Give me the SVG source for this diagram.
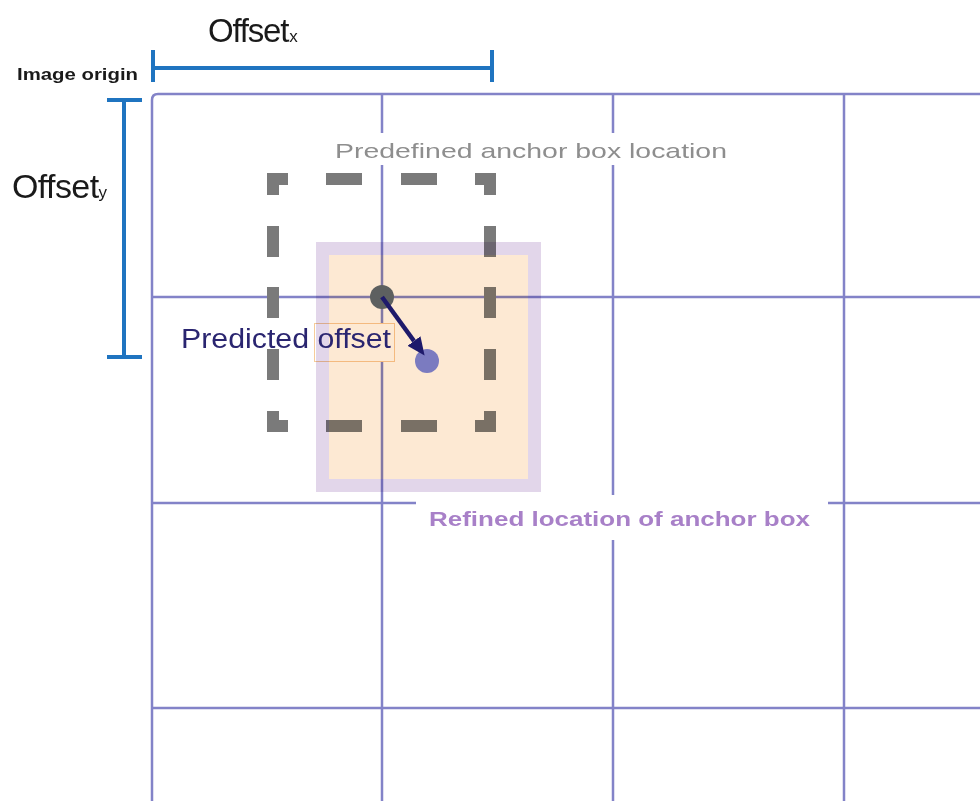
<svg xmlns="http://www.w3.org/2000/svg" width="980" height="801" viewBox="0 0 980 801">
<style>
.grid{stroke:#8383c8;stroke-width:2.5;fill:none}
.blue{stroke:#1f74c0;stroke-width:4;fill:none}
.dash{stroke:#7a7a7a;stroke-width:12;fill:none;stroke-linejoin:miter;stroke-linecap:butt}
.bg{fill:#ffffff}
text{font-family:"Liberation Sans",Arial,sans-serif}
.sub{font-size:17px;letter-spacing:0}
</style>
<defs>
<marker id="ah" markerUnits="userSpaceOnUse" markerWidth="20" markerHeight="18" refX="0" refY="8" orient="auto">
<path d="M0,0 L18,8 L0,16 z" fill="#1e1a6b"/>
</marker>
</defs>
<rect width="980" height="801" fill="#ffffff"/>
<g id="grid">
<path class="grid" d="M152,801 V100 Q152,94 158,94 H980"/>
<path class="grid" d="M382,94 V801 M613,94 V801 M844,94 V801"/>
<path class="grid" d="M152,297 H980 M152,503 H980 M152,708 H980"/>
</g>
<g id="label-backgrounds">
<rect class="bg" x="326" y="133" width="410" height="32"/>
<rect class="bg" x="416" y="495" width="412" height="45"/>
<rect class="bg" x="176" y="323" width="138" height="39"/>
</g>
<g id="offset-x">
<path class="blue" d="M153,68 H492 M153,50 V82 M492,50 V82"/>
<text x="208" y="42" font-size="33" fill="#1a1a1a" letter-spacing="-1.2">Offset<tspan class="sub" dx="1">x</tspan></text>
</g>
<g id="image-origin">
<text x="17" y="80" font-size="17" font-weight="bold" fill="#1a1a1a" textLength="121" lengthAdjust="spacingAndGlyphs">Image origin</text>
</g>
<g id="offset-y">
<path class="blue" d="M124,100 V357 M107,100 H142 M107,357 H142"/>
<text x="12" y="198" font-size="34" fill="#1a1a1a" letter-spacing="-0.6">Offset<tspan class="sub" dx="0">y</tspan></text>
</g>
<g id="predefined-box">
<path class="dash" d="M273,195 V179 H288 M475,179 H490 V195 M273,411 V426 H288 M475,426 H490 V411 M326,179 H362 M401,179 H437 M326,426 H362 M401,426 H437 M273,226 V257 M273,287 V318 M273,349 V380 M490,226 V257 M490,287 V318 M490,349 V380"/>
</g>
<g id="predicted-label-box">
<rect x="314.5" y="323.5" width="80" height="38" fill="#ffffff" stroke="#f6cc9a" stroke-width="1"/>
</g>
<g id="refined-box" style="mix-blend-mode:multiply">
<rect x="322.5" y="248.5" width="212" height="237" fill="#fde9d3" stroke="#e2d6ea" stroke-width="13"/>
</g>
<g id="anchor-center">
<circle cx="382" cy="297" r="12" fill="#5d6060"/>
</g>
<g id="refined-center">
<circle cx="427" cy="361" r="12" fill="#7b7bc0"/>
</g>
<g id="connectors">
<line x1="382" y1="297" x2="414" y2="341" stroke="#1e1a6b" stroke-width="4.5" marker-end="url(#ah)"/>
</g>
<g id="labels">
<text x="335" y="158" font-size="21" fill="#8e8e8e" textLength="392" lengthAdjust="spacingAndGlyphs">Predefined anchor box location</text>
<text x="429" y="526" font-size="21" font-weight="bold" fill="#a880c8" textLength="381" lengthAdjust="spacingAndGlyphs">Refined location of anchor box</text>
<text x="181" y="348" font-size="27" fill="#2a2570" textLength="210" lengthAdjust="spacingAndGlyphs">Predicted offset</text>
</g>
</svg>
